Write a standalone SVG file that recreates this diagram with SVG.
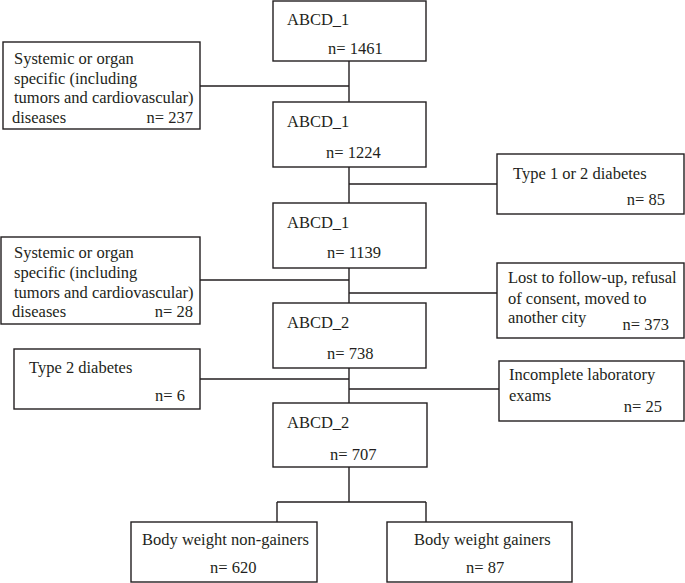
<svg xmlns="http://www.w3.org/2000/svg" width="685" height="583" viewBox="0 0 685 583">
<style>
rect{fill:#fff;stroke:#231f20;stroke-width:1.4}
text{font-family:"Liberation Serif","Times New Roman",serif;font-size:16.5px;fill:#231f20}
.r{text-anchor:end}
#conn path{stroke:#231f20;stroke-width:1.4;fill:none}
</style>
<rect x="0" y="0" width="685" height="583" style="fill:#fff;stroke:none"/>
<g id="conn">
<path d="M349 61V102M200 86H349M349 167V203M349 184H497M349 268V303M200 280H349M349 293H497M349 368V403M200 379H349M349 389H499M349 467V502M277 502H426M277 502V522M426 502V522"/>
</g>
<g id="n1"><rect x="273" y="1" width="153" height="60"/><text x="287" y="25">ABCD_1</text><text x="328" y="54">n= 1461</text></g>
<g id="nA"><rect x="3" y="42" width="197" height="87"/><text x="14" y="64">Systemic or organ</text><text x="14" y="84">specific (including</text><text x="14" y="103">tumors and cardiovascular)</text><text x="12" y="123">diseases</text><text class="r" x="193" y="123">n= 237</text></g>
<g id="n2"><rect x="273" y="102" width="153" height="65"/><text x="287" y="127">ABCD_1</text><text x="326" y="158">n= 1224</text></g>
<g id="nB"><rect x="497" y="154" width="187" height="60"/><text x="513" y="179">Type 1 or 2 diabetes</text><text class="r" x="665" y="205">n= 85</text></g>
<g id="n3"><rect x="273" y="203" width="153" height="65"/><text x="287" y="228">ABCD_1</text><text x="327" y="258">n= 1139</text></g>
<g id="nC"><rect x="1" y="237" width="199" height="87"/><text x="14" y="258">Systemic or organ</text><text x="14" y="278">specific (including</text><text x="14" y="298">tumors and cardiovascular)</text><text x="12" y="317">diseases</text><text class="r" x="193" y="317">n= 28</text></g>
<g id="nD"><rect x="497" y="263" width="187" height="75"/><text x="508" y="283">Lost to follow-up, refusal</text><text x="508" y="304">of consent, moved to</text><text x="508" y="323">another city</text><text class="r" x="669" y="330">n= 373</text></g>
<g id="n4"><rect x="273" y="303" width="153" height="65"/><text x="287" y="328">ABCD_2</text><text x="327" y="359">n= 738</text></g>
<g id="nE"><rect x="14" y="349" width="186" height="60"/><text x="29" y="373">Type 2 diabetes</text><text class="r" x="185" y="401">n= 6</text></g>
<g id="nF"><rect x="499" y="361" width="185" height="60"/><text x="509" y="380">Incomplete laboratory</text><text x="509" y="401">exams</text><text class="r" x="662" y="412">n= 25</text></g>
<g id="n5"><rect x="273" y="403" width="154" height="64"/><text x="287" y="428">ABCD_2</text><text x="330" y="460">n= 707</text></g>
<g id="nG"><rect x="131" y="522" width="186" height="60"/><text x="142" y="545">Body weight non-gainers</text><text x="210" y="573">n= 620</text></g>
<g id="nH"><rect x="387" y="522" width="185" height="60"/><text x="414" y="545">Body weight gainers</text><text x="466" y="573">n= 87</text></g>
</svg>
